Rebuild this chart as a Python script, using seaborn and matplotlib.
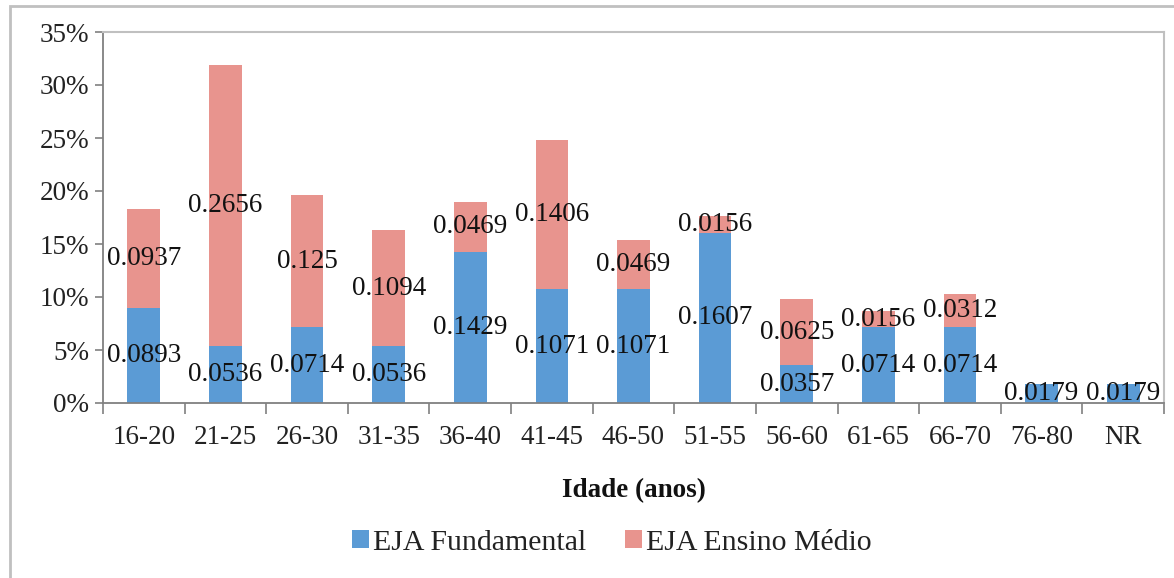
import matplotlib
matplotlib.use("Agg")
import matplotlib.pyplot as plt
import seaborn as sns
import pandas as pd
from matplotlib.patches import Rectangle, Patch
from matplotlib.ticker import FuncFormatter, FixedLocator

categories = ["16-20", "21-25", "26-30", "31-35", "36-40", "41-45", "46-50",
              "51-55", "56-60", "61-65", "66-70", "76-80", "NR"]
fundamental = [0.0893, 0.0536, 0.0714, 0.0536, 0.1429, 0.1071, 0.1071,
               0.1607, 0.0357, 0.0714, 0.0714, 0.0179, 0.0179]
medio = [0.0937, 0.2656, 0.125, 0.1094, 0.0469, 0.1406, 0.0469,
         0.0156, 0.0625, 0.0156, 0.0312, 0.0, 0.0]
series_names = ["EJA Fundamental", "EJA Ensino Médio"]

blue = "#5B9BD5"
pink = "#E8948E"

sns.set_theme(style="white")
plt.rcParams["font.family"] = ["Liberation Serif", "DejaVu Serif"]
FS = 19.5

df = pd.DataFrame({"cat": categories, "fund": fundamental, "med": medio})
df["total"] = df["fund"] + df["med"]

fig = plt.figure(figsize=(11.74, 5.78), dpi=100)
ax = fig.add_axes([103/1174, 1 - 403/578, (1164-103)/1174, (403-32)/578])

sns.barplot(data=df, x="cat", y="total", color=pink, width=0.4, saturation=1,
            ax=ax, order=categories, linewidth=0)
sns.barplot(data=df, x="cat", y="fund", color=blue, width=0.4, saturation=1,
            ax=ax, order=categories, linewidth=0)

for i, (f, m) in enumerate(zip(fundamental, medio)):
    if f > 0:
        ax.text(i, f / 2, f"{f:g}", ha="center", va="center", fontsize=FS, color="#111111")
    if m > 0:
        ax.text(i, f + m / 2, f"{m:g}", ha="center", va="center", fontsize=FS, color="#111111")

ax.set_ylim(0, 0.35)
ax.set_xlim(-0.5, len(categories) - 0.5)
ax.yaxis.set_major_locator(FixedLocator([0, 0.05, 0.10, 0.15, 0.20, 0.25, 0.30, 0.35]))
ax.yaxis.set_major_formatter(FuncFormatter(lambda v, p: f"{round(v*100)}%"))
ax.set_xticks(range(len(categories)))
ax.set_xticklabels(categories)
ax.set_xticks([i - 0.5 for i in range(len(categories) + 1)], minor=True)

ax.tick_params(axis="y", which="major", direction="out", length=6, width=1.2,
               color="#808080", left=True, labelsize=FS, pad=4, labelcolor="#222222")
ax.tick_params(axis="x", which="major", length=0, labelsize=FS, pad=16, labelcolor="#222222")
ax.tick_params(axis="x", which="minor", direction="out", length=8, width=1.2,
               color="#808080", bottom=True)

for s in ["left", "bottom"]:
    ax.spines[s].set_color("#808080")
    ax.spines[s].set_linewidth(1.3)
for s in ["top", "right"]:
    ax.spines[s].set_visible(True)
    ax.spines[s].set_color("#C0C0C0")
    ax.spines[s].set_linewidth(1.5)

ax.set_ylabel("")
ax.set_xlabel("Idade (anos)", fontsize=FS, fontweight="bold", labelpad=20, color="#111111")

handles = [Patch(facecolor=blue, edgecolor="none"), Patch(facecolor=pink, edgecolor="none")]
fig.legend(handles, series_names, loc="center", bbox_to_anchor=(612/1174, 1 - 543/578),
           ncol=2, frameon=False, fontsize=21.5, handlelength=0.55, handleheight=0.55,
           handletextpad=0.15, columnspacing=1.3, labelcolor="#222222")

fig.patches.append(Rectangle((10/1174, -0.1), 1.2, 1 - 6/578 + 0.1, transform=fig.transFigure,
                             fill=False, edgecolor="#C0C0C0", linewidth=2.0, zorder=-1))

fig.savefig("out.png", dpi=100)
